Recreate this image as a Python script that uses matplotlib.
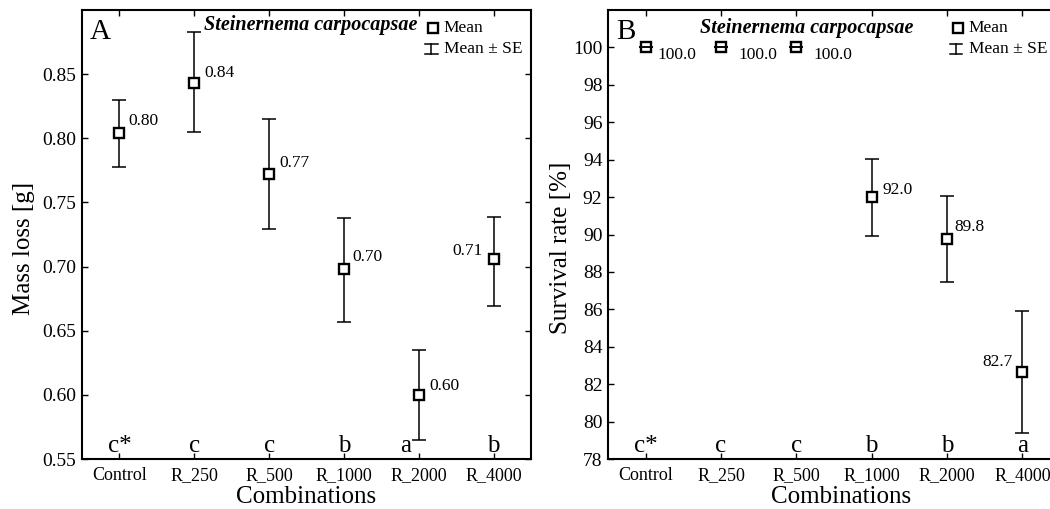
import matplotlib
matplotlib.use("Agg")
import matplotlib.pyplot as plt
import numpy as np

# ---- data ----
categories = ["Control", "R_250", "R_500", "R_1000", "R_2000", "R_4000"]

mass_mean = [0.804, 0.843, 0.772, 0.698, 0.600, 0.706]
mass_upper = [0.830, 0.883, 0.815, 0.738, 0.635, 0.739]
mass_lower = [0.778, 0.805, 0.729, 0.657, 0.565, 0.669]
mass_letters = ["c*", "c", "c", "b", "a", "b"]

surv_mean = [100.0, 100.0, 100.0, 92.0, 89.76, 82.66]
surv_upper = [100.0, 100.0, 100.0, 94.03, 92.08, 85.91]
surv_lower = [100.0, 100.0, 100.0, 89.93, 87.45, 79.37]
surv_letters = ["c*", "c", "c", "b", "b", "a"]

mass_yticks = [0.55, 0.60, 0.65, 0.70, 0.75, 0.80, 0.85]
surv_yticks = [78, 80, 82, 84, 86, 88, 90, 92, 94, 96, 98, 100]

# ---- style ----
plt.rcParams["font.family"] = ["Liberation Serif", "DejaVu Serif"]

fig = plt.figure(figsize=(10.5, 5.09), dpi=100)
W, H = 1050, 509


def make_axes(left_px, width_px):
    return fig.add_axes([left_px / W, (H - 459) / H, width_px / W, 449 / H])


ax1 = make_axes(82, 449)
ax2 = make_axes(608, 452)


def draw_panel(ax, mean, upper, lower, letters, yticks, ylim, fmt_tick, fmt_val,
               offsets, letter_dx, ylabel, panel, species_x, species_y,
               leg_x, ylabel_x, xlabel_x):
    x = np.arange(len(categories))
    mean = np.asarray(mean)
    yerr = np.vstack([mean - np.asarray(lower), np.asarray(upper) - mean])
    _, caps, bars = ax.errorbar(x, mean, yerr=yerr, fmt="none", ecolor="black",
                                elinewidth=1.1, capsize=5.2, capthick=1.1, zorder=2)
    for c in caps:
        c.set_zorder(4)
    ax.plot(x, mean, ls="none", marker="s", ms=6.8, mfc="white", mec="black",
            mew=1.7, zorder=3)

    for xi, yi, (dx, dy, ha) in zip(x, mean, offsets):
        ax.annotate(fmt_val(yi), (xi, yi), xytext=(dx, dy), textcoords="offset pixels",
                    ha=ha, va="center", fontsize=12.5)

    for xi, lab, ddx in zip(x, letters, letter_dx):
        ax.annotate(lab, (xi, 0), xycoords=("data", "axes fraction"),
                    xytext=(ddx, 7), textcoords="offset pixels",
                    ha="center", va="baseline", fontsize=18)

    ax.set_xlim(-0.5, len(categories) - 0.5)
    ax.set_ylim(*ylim)
    ax.set_xticks(x)
    ax.set_xticklabels(categories, fontsize=13)
    ax.set_yticks(yticks)
    ax.set_yticklabels([fmt_tick(t) for t in yticks], fontsize=14)
    ax.tick_params(direction="in", top=True, right=True, length=4, width=1,
                   colors="black")
    ax.tick_params(axis="x", pad=6)
    ax.tick_params(axis="y", pad=4)
    for s in ax.spines.values():
        s.set_linewidth(1.5)

    ax.set_ylabel(ylabel, fontsize=18)
    ax.yaxis.set_label_coords(ylabel_x, 0.47)
    ax.set_xlabel("Combinations", fontsize=18)
    ax.xaxis.set_label_coords(xlabel_x, -0.060)

    ax.text(0.018, 0.951, panel, transform=ax.transAxes, fontsize=21,
            ha="left", va="center")
    ax.text(species_x, species_y, "Steinernema carpocapsae", transform=ax.transAxes,
            fontsize=14.5, fontweight="bold", fontstyle="italic", ha="right", va="center")

    # legend
    ax.plot([leg_x], [0.960], transform=ax.transAxes, ls="none", marker="s", ms=6.8,
            mfc="white", mec="black", mew=1.7, clip_on=False)
    ax.text(leg_x + 0.024, 0.960, "Mean", transform=ax.transAxes, fontsize=12.5,
            ha="left", va="center")
    gx = leg_x - 0.004
    ax.plot([gx, gx], [0.902, 0.925], transform=ax.transAxes, color="black", lw=1.1,
            clip_on=False)
    for yy in (0.902, 0.925):
        ax.plot([gx - 0.014, gx + 0.014], [yy, yy], transform=ax.transAxes,
                color="black", lw=1.1, clip_on=False)
    ax.text(leg_x + 0.024, 0.913, "Mean ± SE", transform=ax.transAxes, fontsize=12.5,
            ha="left", va="center")


draw_panel(ax1, mass_mean, mass_upper, mass_lower, mass_letters, mass_yticks,
           (0.55, 0.90), lambda t: f"{t:.2f}", lambda v: f"{v:.2f}",
           [(9, 12, "left"), (10, 10, "left"), (10, 11, "left"), (8, 12, "left"),
            (11, 9, "left"), (-11, 8, "right")],
           [0, 0, 0, 0, -13, 0],
           "Mass loss [g]", "A", 0.746, 0.966, 0.782, -0.105, 0.5)

draw_panel(ax2, surv_mean, surv_upper, surv_lower, surv_letters, surv_yticks,
           (78, 102), lambda t: f"{t:d}", lambda v: f"{v:.1f}",
           [(12, -8, "left"), (17, -8, "left"), (17, -8, "left"), (11, 7, "left"),
            (7, 12, "left"), (-10, 10, "right")],
           [0, 0, 0, 0, 0, 0],
           "Survival rate [%]", "B", 0.675, 0.960, 0.774, -0.080, 0.515)

fig.savefig("out.png", dpi=100)
